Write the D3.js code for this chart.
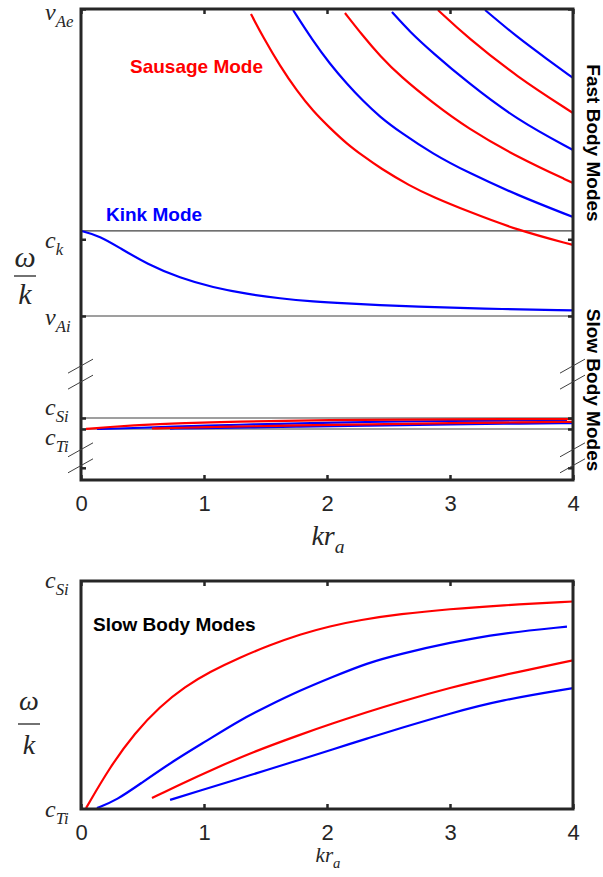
<!DOCTYPE html>
<html>
<head>
<meta charset="utf-8">
<style>
    body { margin: 0; background: #fff; }
    .frame { fill: none; stroke: #262626; stroke-width: 3px; }
    .ref { stroke: #404040; stroke-width: 1.2px; }
    .brk { stroke: #404040; stroke-width: 1px; }
    .tex { font-family: "Liberation Serif", "DejaVu Serif", serif; font-style: italic; fill: #262626; }
    .axis text { font-family: "Liberation Sans", Arial, sans-serif; font-size: 22px; fill: #262626; }
    .axis line { stroke: #262626; stroke-width: 2.5px; }
    .axis path { display: none; }
    .note { font-family: "Liberation Sans", Arial, sans-serif; font-weight: bold; font-size: 19px; }
    .curve { fill: none; stroke-width: 2.2px; stroke-linejoin: round; }
</style>
</head>
<body>
<script src="https://d3js.org/d3.v7.min.js"></script>
<script>
    // ---- data (kr_a , omega/k) ----
    var xTicks = [0, 1, 2, 3, 4];

    var speedLabels = ["c_Ti", "c_Si", "v_Ai", "c_k", "v_Ae"];
    var speedValues = [0.9, 1.0, 2.0, 2.831, 5.0];

    var topTickValues = [0.55, 0.9, 1.0, 2.0, 2.75, 5.0];
    var topTickLabels = ["", "c_Ti", "c_Si", "v_Ai", "c_k", "v_Ae"];
    var bottomTickValues = [0.9, 1.0];
    var bottomTickLabels = ["c_Ti", "c_Si"];

    // fast body modes, sausage (red)
    var fastSausage = [
        [[1.382, 4.951], [1.480, 4.726], [1.618, 4.443], [1.756, 4.199], [1.886, 4.003], [2.024, 3.837],
         [2.163, 3.681], [2.293, 3.564], [2.431, 3.446], [2.675, 3.270], [2.862, 3.163], [3.138, 3.026],
         [3.545, 2.840], [4.0, 2.694]],
        [[2.146, 4.961], [2.293, 4.736], [2.431, 4.541], [2.593, 4.345], [2.862, 4.081], [3.138, 3.837],
         [3.545, 3.554], [4.0, 3.300]],
        [[2.902, 4.990], [3.138, 4.726], [3.545, 4.336], [4.0, 3.984]]
    ];

    // kink modes (blue): fundamental from c_k, then fast body kink modes
    var kinkFundamental = [[0, 2.831], [0.154, 2.782], [0.317, 2.664], [0.537, 2.508], [0.805, 2.371],
        [1.073, 2.279], [1.350, 2.215], [1.618, 2.171], [1.886, 2.142], [2.163, 2.122], [2.431, 2.105],
        [2.699, 2.092], [3.244, 2.072], [4.0, 2.054]];

    var fastKink = [
        [[1.724, 4.990], [1.886, 4.687], [2.024, 4.463], [2.163, 4.267], [2.293, 4.101], [2.431, 3.945],
         [2.593, 3.798], [2.862, 3.583], [3.138, 3.407], [3.545, 3.182], [4.0, 2.967]],
        [[2.528, 4.971], [2.675, 4.775], [2.862, 4.570], [3.138, 4.287], [3.545, 3.915], [4.0, 3.622]],
        [[3.285, 4.990], [3.545, 4.726], [3.789, 4.511], [4.0, 4.326]]
    ];

    // slow body modes (between c_Ti and c_Si)
    var slowSausage = [
        [[0.041, 0.9004], [0.236, 0.9185], [0.439, 0.9335], [0.642, 0.9450], [0.846, 0.9537], [1.049, 0.9602],
         [1.293, 0.9665], [1.537, 0.9719], [1.780, 0.9766], [2.024, 0.9802], [2.268, 0.9829], [2.593, 0.9855],
         [3.0, 0.9877], [3.407, 0.9893], [4.0, 0.9910]],
        [[0.577, 0.9048], [0.829, 0.9114], [1.106, 0.9182], [1.374, 0.9245], [1.780, 0.9326], [2.049, 0.9376],
         [2.325, 0.9425], [2.593, 0.9470], [3.0, 0.9532], [3.407, 0.9585], [4.0, 0.9652]]
    ];
    var slowKink = [
        [[0.130, 0.9004], [0.293, 0.904], [0.480, 0.911], [0.748, 0.921], [1.024, 0.930], [1.293, 0.939],
         [1.512, 0.945], [1.780, 0.952], [2.049, 0.958], [2.325, 0.964], [2.593, 0.968], [3.0, 0.973],
         [3.407, 0.977], [3.951, 0.980]],
        [[0.724, 0.904], [0.967, 0.908], [1.236, 0.9125], [1.512, 0.9171], [1.780, 0.9216], [2.049, 0.9262],
         [2.325, 0.9309], [2.593, 0.9354], [3.0, 0.9419], [3.407, 0.9477], [4.0, 0.953]]
    ];

    // ---- layout ----
    var width = 603, height = 877;
    var left = 81, right = 573;
    var topBox = { top: 9, bottom: 480 };
    var botBox = { top: 581, bottom: 809 };
    var red = "#ff0000", blue = "#0000ff";

    var svg = d3.select("body").append("svg")
        .attr("width", width)
        .attr("height", height);

    var x = d3.scaleLinear().domain([0, 4]).range([left, right]);

    // broken axis: slow section squeezed under the fast section
    var yTop = d3.scaleLinear()
        .domain([0.44, speedValues[0], speedValues[1], speedValues[2], speedValues[4]])
        .range([topBox.bottom, 429, 418, 316, topBox.top]);
    var yBot = d3.scaleLinear()
        .domain([speedValues[0], speedValues[1]])
        .range([botBox.bottom, botBox.top]);

    svg.append("defs").selectAll("clipPath")
        .data([["clipTop", topBox], ["clipBot", botBox]])
        .enter().append("clipPath").attr("id", function (d) { return d[0]; })
        .append("rect")
        .attr("x", left).attr("y", function (d) { return d[1].top; })
        .attr("width", right - left).attr("height", function (d) { return d[1].bottom - d[1].top; });

    function texText(g, str, size) {
        var parts = str.split("_");
        g.append("tspan").text(parts[0]);
        if (parts[1]) {
            g.append("tspan").attr("font-size", size * 0.7).attr("dy", size * 0.28).text(parts[1]);
        }
    }

    function drawCurves(g, y, curves, color, clip) {
        var line = d3.line()
            .x(function (d) { return x(d[0]); })
            .y(function (d) { return y(d[1]); })
            .curve(d3.curveBasis);
        g.append("g").attr("clip-path", "url(#" + clip + ")")
            .selectAll("path")
            .data(curves)
            .enter().append("path")
            .attr("class", "curve")
            .attr("stroke", color)
            .attr("d", line);
    }

    function fracLabel(g, cx, baseOmega, barY, baseK, size) {
        g.append("text").attr("class", "tex").attr("x", cx).attr("y", baseOmega)
            .attr("text-anchor", "middle").attr("font-size", size).text("ω");
        g.append("line").attr("x1", cx - 11).attr("x2", cx + 11).attr("y1", barY).attr("y2", barY)
            .attr("stroke", "#262626").attr("stroke-width", 1.3);
        g.append("text").attr("class", "tex").attr("x", cx).attr("y", baseK)
            .attr("text-anchor", "middle").attr("font-size", size).text("k");
    }

    // ================= top panel =================
    var topG = svg.append("g");

    // horizontal reference speeds c_Ti, c_Si, v_Ai, c_k
    topG.selectAll(".ref")
        .data(speedValues.slice(0, 4))
        .enter().append("line")
        .attr("class", "ref")
        .attr("x1", left).attr("x2", right)
        .attr("y1", function (d) { return yTop(d); })
        .attr("y2", function (d) { return yTop(d); });

    drawCurves(topG, yTop, slowKink, blue, "clipTop");
    drawCurves(topG, yTop, slowSausage, red, "clipTop");
    drawCurves(topG, yTop, [kinkFundamental], blue, "clipTop");
    drawCurves(topG, yTop, fastKink, blue, "clipTop");
    drawCurves(topG, yTop, fastSausage, red, "clipTop");

    topG.append("g").attr("class", "axis")
        .attr("transform", "translate(0," + topBox.bottom + ")")
        .call(d3.axisBottom(x).tickValues(xTicks).tickSize(-5).tickPadding(15).tickFormat(d3.format("d")));
    topG.append("g").attr("class", "axis")
        .attr("transform", "translate(0," + topBox.top + ")")
        .call(d3.axisTop(x).tickValues(xTicks).tickSize(-5).tickFormat(""));
    topG.append("g").attr("class", "axis")
        .attr("transform", "translate(" + left + ",0)")
        .call(d3.axisLeft(yTop).tickValues(topTickValues).tickSize(-5).tickFormat(""));
    topG.append("g").attr("class", "axis")
        .attr("transform", "translate(" + right + ",0)")
        .call(d3.axisRight(yTop).tickValues(topTickValues).tickSize(-5).tickFormat(""));

    topG.append("rect").attr("class", "frame")
        .attr("x", left).attr("y", topBox.top)
        .attr("width", right - left).attr("height", topBox.bottom - topBox.top);

    // tick labels (LaTeX style), nudged like the original
    var topNudge = [0, 16, -3, 9, 9, 11];
    topTickLabels.forEach(function (lab, i) {
        if (!lab) return;
        var t = topG.append("text").attr("class", "tex").attr("font-size", 24)
            .attr("x", 45).attr("y", yTop(topTickValues[i]) + topNudge[i]);
        texText(t, lab, 24);
    });

    // axis break marks
    [1.43, 0.64].forEach(function (v) {
        var yc = yTop(v);
        [left, right].forEach(function (ax) {
            [-8, 8].forEach(function (off) {
                topG.append("line").attr("class", "brk")
                    .attr("x1", ax - 13).attr("y1", yc + off + 7)
                    .attr("x2", ax + 12).attr("y2", yc + off - 7);
            });
        });
    });

    fracLabel(topG, 25, 267, 276, 304, 30);

    var xl = topG.append("text").attr("class", "tex").attr("font-size", 28)
        .attr("x", 328).attr("y", 545).attr("text-anchor", "middle");
    texText(xl, "kr_a", 28);

    topG.append("text").attr("class", "note").attr("fill", red)
        .attr("x", 130).attr("y", 73).text("Sausage Mode");
    topG.append("text").attr("class", "note").attr("fill", blue)
        .attr("x", 106).attr("y", 221).text("Kink Mode");
    topG.append("text").attr("class", "note").attr("fill", "#000")
        .attr("text-anchor", "middle").attr("dominant-baseline", "central")
        .attr("transform", "translate(593,143) rotate(90)").text("Fast Body Modes");
    topG.append("text").attr("class", "note").attr("fill", "#000")
        .attr("text-anchor", "middle").attr("dominant-baseline", "central")
        .attr("transform", "translate(593,390) rotate(90)").text("Slow Body Modes");

    // ================= bottom panel =================
    var botG = svg.append("g");

    drawCurves(botG, yBot, slowSausage, red, "clipBot");
    drawCurves(botG, yBot, slowKink, blue, "clipBot");

    botG.append("g").attr("class", "axis")
        .attr("transform", "translate(0," + botBox.bottom + ")")
        .call(d3.axisBottom(x).tickValues(xTicks).tickSize(-5).tickPadding(15).tickFormat(d3.format("d")));
    botG.append("g").attr("class", "axis")
        .attr("transform", "translate(0," + botBox.top + ")")
        .call(d3.axisTop(x).tickValues(xTicks).tickSize(-5).tickFormat(""));

    botG.append("rect").attr("class", "frame")
        .attr("x", left).attr("y", botBox.top)
        .attr("width", right - left).attr("height", botBox.bottom - botBox.top);

    var botNudge = [8, 7];
    bottomTickLabels.forEach(function (lab, i) {
        var t = botG.append("text").attr("class", "tex").attr("font-size", 24)
            .attr("x", 45).attr("y", yBot(bottomTickValues[i]) + botNudge[i]);
        texText(t, lab, 24);
    });

    fracLabel(botG, 29, 710, 724, 754, 28);

    var xl2 = botG.append("text").attr("class", "tex").attr("font-size", 21)
        .attr("x", 328).attr("y", 862).attr("text-anchor", "middle");
    texText(xl2, "kr_a", 21);

    botG.append("text").attr("class", "note").attr("fill", "#000")
        .attr("x", 93).attr("y", 631).text("Slow Body Modes");
</script>
</body>
</html>
